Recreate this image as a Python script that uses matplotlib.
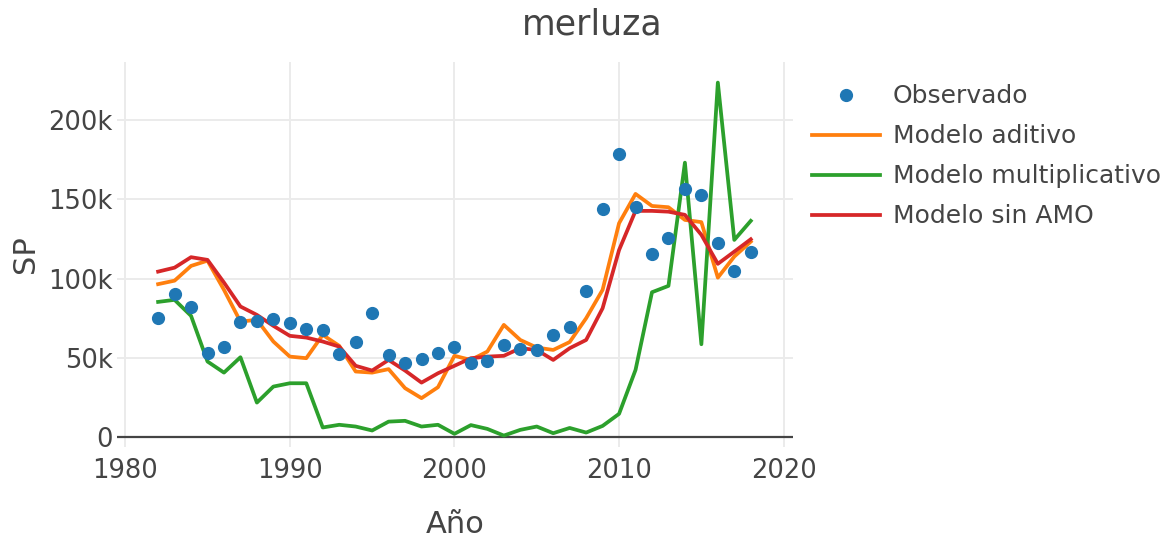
import numpy as np
import matplotlib
matplotlib.use("Agg")
from matplotlib import pyplot as plt

# años y series
anios = list(range(1982, 2019))
observado = [75.2, 90.4, 82.0, 53.0, 57.0, 72.7, 73.5, 74.6, 72.0, 68.5,
             67.6, 52.5, 59.9, 78.2, 51.9, 46.6, 49.2, 53.0, 57.1, 46.6,
             48.1, 58.2, 55.5, 55.0, 64.5, 69.7, 92.4, 144.1, 178.4, 145.4,
             115.6, 125.4, 156.4, 152.8, 122.7, 105.0, 117.0]
aditivo = [96.5, 98.7, 108.0, 111.3, 92.9, 72.9, 74.0, 60.3, 50.8, 49.8,
           64.5, 57.6, 41.4, 40.7, 42.9, 30.9, 24.6, 31.5, 51.3, 48.7,
           54.0, 70.8, 61.3, 56.5, 55.0, 60.0, 75.0, 92.9, 134.9, 153.4,
           145.8, 145.0, 137.0, 135.6, 100.6, 113.9, 123.3]
multiplicativo = [85.3, 86.6, 76.5, 47.7, 40.7, 50.4, 21.8, 31.9, 34.0, 34.0,
                  6.1, 7.8, 6.7, 4.2, 9.8, 10.3, 6.7, 7.8, 2.1, 7.6,
                  5.2, 1.0, 4.6, 6.7, 2.5, 5.8, 2.9, 7.1, 14.7, 42.4,
                  91.4, 95.4, 173.1, 58.6, 223.6, 124.4, 136.4]
sin_amo = [104.4, 106.9, 113.5, 111.8, 97.5, 82.4, 77.1, 70.2, 63.9, 62.8,
           60.3, 57.1, 45.0, 42.0, 48.7, 42.0, 34.4, 40.3, 45.0, 49.8,
           50.8, 51.3, 56.1, 55.0, 48.7, 56.1, 61.3, 81.3, 118.0, 142.7,
           142.7, 142.2, 140.2, 127.6, 109.3, 117.0, 124.8]

gris = "#444444"
plt.rcParams["font.family"] = ["DejaVu Sans"]

fig = plt.figure(figsize=(11.72, 5.39), dpi=100)
ax = fig.add_axes([0.0998, 0.171, 0.5766, 0.714])

x = np.array(anios)
ax.plot(x, np.array(observado) * 1000, "o", color="#1f77b4", ms=8.5, label="Observado", zorder=5)
ax.plot(x, np.array(aditivo) * 1000, color="#ff7f0e", lw=2.7, label="Modelo aditivo", zorder=3)
ax.plot(x, np.array(multiplicativo) * 1000, color="#2ca02c", lw=2.7, label="Modelo multiplicativo", zorder=3)
ax.plot(x, np.array(sin_amo) * 1000, color="#d62728", lw=2.7, label="Modelo sin AMO", zorder=4)

ax.set_xlim(1979.5, 2020.55)
ax.set_ylim(-6100, 236600)
ax.set_xticks([1980, 1990, 2000, 2010, 2020])
ax.set_yticks([0, 50000, 100000, 150000, 200000])
ax.set_yticklabels(["0", "50k", "100k", "150k", "200k"])

for s in ax.spines.values():
    s.set_visible(False)
ax.grid(True, color="#ebebeb", lw=1.4)
ax.set_axisbelow(True)
ax.axhline(0, color=gris, lw=1.6, zorder=2)
ax.tick_params(length=0, labelsize=18.5, labelcolor=gris)
ax.tick_params(axis="x", pad=8)
ax.tick_params(axis="y", pad=3)

ax.set_xlabel("Año", fontsize=22, color=gris, labelpad=19)
ax.set_ylabel("SP", fontsize=22, color=gris, labelpad=6)
fig.text(0.505, 0.955, "merluza", ha="center", va="center", fontsize=25, color=gris)

leg = ax.legend(loc="upper left", bbox_to_anchor=(0.684, 0.862), bbox_transform=fig.transFigure,
                frameon=False, fontsize=18, handlelength=2.75, handletextpad=0.5,
                labelspacing=0.64, borderaxespad=0)
for t in leg.get_texts():
    t.set_color(gris)

plt.savefig("out.png", dpi=100)
